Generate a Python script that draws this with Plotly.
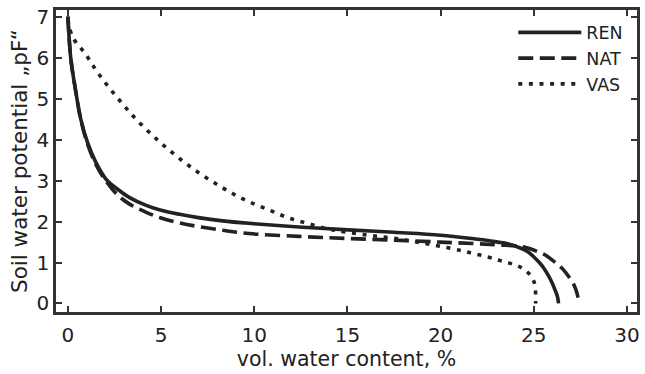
import plotly.graph_objects as go

# Water retention curves: volumetric water content (%) vs. pF
ren_theta = [0.0, 0.05, 0.16, 0.43, 0.69, 1.05, 1.5, 2.03, 2.65, 3.31, 4.2, 5.0, 6.0, 7.0,
             8.3, 9.7, 12.4, 15.06, 17.5, 20.0, 22.0, 22.53, 23.07, 23.6, 24.31, 24.7,
             25.02, 25.3, 25.56, 25.8, 26.0, 26.15, 26.27, 26.33]
ren_pf = [7.02, 6.6, 5.97, 5.16, 4.51, 3.94, 3.45, 3.05, 2.8, 2.59, 2.4, 2.28, 2.18, 2.1,
          2.02, 1.96, 1.87, 1.8, 1.74, 1.67, 1.57, 1.54, 1.5, 1.46, 1.35, 1.26,
          1.13, 1.0, 0.85, 0.67, 0.49, 0.32, 0.17, 0.0]

nat_theta = [0.0, 0.05, 0.16, 0.43, 0.69, 1.05, 1.5, 2.03, 2.65, 3.31, 4.2, 5.0, 6.0, 7.0,
             8.3, 9.7, 12.4, 14.9, 17.5, 20.0, 22.0, 23.1, 24.0, 24.49, 25.2, 25.6,
             25.91, 26.3, 26.62, 26.9, 27.16, 27.32, 27.43]
nat_pf = [7.02, 6.6, 5.97, 5.16, 4.5, 3.9, 3.4, 3.0, 2.66, 2.43, 2.23, 2.09, 1.97, 1.88,
          1.79, 1.71, 1.64, 1.59, 1.55, 1.5, 1.46, 1.43, 1.41, 1.38, 1.27, 1.19,
          1.09, 0.95, 0.81, 0.64, 0.45, 0.25, 0.0]

vas_theta = [0.0, 0.25, 0.93, 1.55, 2.21, 2.92, 3.63, 4.43, 5.23, 6.09, 6.98, 7.9, 8.83,
             9.81, 10.88, 11.85, 12.92, 13.99, 14.97, 16.3, 17.7, 19.0, 20.4, 21.5, 22.5,
             23.1, 23.6, 24.0, 24.31, 24.55, 24.76, 24.92, 25.02, 25.08, 25.1, 25.1]
vas_pf = [6.95, 6.52, 6.11, 5.68, 5.28, 4.89, 4.52, 4.16, 3.83, 3.51, 3.21, 2.94, 2.69,
          2.47, 2.27, 2.09, 1.95, 1.82, 1.74, 1.66, 1.58, 1.48, 1.36, 1.25, 1.14,
          1.06, 1.0, 0.94, 0.88, 0.81, 0.72, 0.62, 0.52, 0.38, 0.2, 0.0]

x_ticks = [0, 5, 10, 15, 20, 25, 30]
y_ticks = [0, 1, 2, 3, 4, 5, 6, 7]

INK = "#222222"
FRAME = "#333333"
FONT = "DejaVu Sans"

fig = go.Figure()
series = [
    ("REN", ren_theta, ren_pf, "solid"),
    ("NAT", nat_theta, nat_pf, "15px,6.5px"),
    ("VAS", vas_theta, vas_pf, "4px,6.6px"),
]
for name, xs, ys, dash in series:
    fig.add_trace(go.Scatter(
        x=xs, y=ys, name=name, mode="lines", legendgroup=name,
        line=dict(color=INK, width=3.6, dash=dash, shape="spline", smoothing=1.0),
    ))

axis_common = dict(
    showgrid=False, zeroline=False, showline=True, linecolor=FRAME, linewidth=2.5,
    mirror="ticks", ticks="inside", ticklen=6, tickwidth=2, tickcolor=FRAME,
    tickfont=dict(family=FONT, size=20, color=INK),
)

fig.update_xaxes(
    range=[-0.64, 30.54], tickvals=x_ticks, ticklabelstandoff=3,
    title=dict(text="vol. water content, %", font=dict(family=FONT, size=20.5, color=INK),
               standoff=6),
    **axis_common,
)
fig.update_yaxes(
    range=[-0.21, 7.18], tickvals=y_ticks,
    title=dict(text="Soil water potential „pF“", font=dict(family=FONT, size=21.5, color=INK),
               standoff=3),
    **axis_common,
)

fig.update_layout(
    width=645, height=374,
    margin=dict(l=56, r=5, t=8, b=62),
    paper_bgcolor="white", plot_bgcolor="white",
    font=dict(family=FONT, color=INK),
    legend=dict(
        x=0.985, y=0.985, xanchor="right", yanchor="top",
        bgcolor="rgba(0,0,0,0)", borderwidth=0,
        font=dict(family=FONT, size=17.5, color=INK),
        tracegroupgap=0, itemwidth=63,
    ),
)

fig.write_html("out.html")
